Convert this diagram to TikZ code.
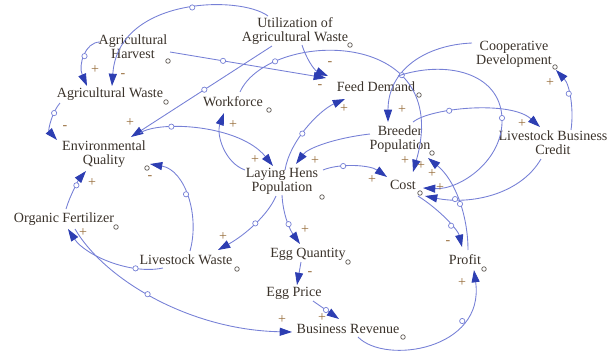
\documentclass[tikz,border=0pt]{standalone}
\usepackage{fontspec}
\setmainfont{Liberation Serif}
\usetikzlibrary{arrows.meta,calc}
\definecolor{linecol}{RGB}{118,128,214}
\definecolor{tipcol}{RGB}{45,62,178}
\definecolor{txtcol}{RGB}{58,50,42}
\definecolor{sgncol}{RGB}{150,108,58}
\tikzset{
	var/.style={font=\fontsize{8}{8}\selectfont, text=txtcol, align=center, inner sep=1pt},
	link/.style={draw=linecol, line width=0.5pt, -{Triangle[length=7pt,width=4.6pt,color=tipcol]}},
	sgn/.style={font=\fontsize{8}{8}\selectfont, text=sgncol, inner sep=0pt},
	dot/.style={circle, draw=linecol, fill=white, line width=0.4pt, inner sep=0pt, minimum size=3pt},
	hdl/.style={draw=txtcol!80, fill=white, line width=0.4pt}
}
\begin{document}
\begin{tikzpicture}[x=0.02cm,y=-0.02cm]
	\useasboundingbox (0,0) rectangle (610,352);
	\node[var] (harv) at (133,47) {Agricultural\\Harvest};
	\node[var] (util) at (295,31) {Utilization of\\Agricultural Waste};
	\node[var] (aw) at (110,94) {Agricultural Waste};
	\node[var] (work) at (233,102) {Workforce};
	\node[var] (feed) at (376,87) {Feed Demand};
	\node[var] (coop) at (514,54) {Cooperative\\Development};
	\node[var] (env) at (104,154) {Environmental\\Quality};
	\node[var] (breed) at (400,139) {Breeder\\Population};
	\node[var] (lbc) at (553,143) {Livestock Business\\Credit};
	\node[var] (lay) at (282,181) {Laying Hens\\Population};
	\node[var] (cost) at (403,185) {Cost};
	\node[var] (fert) at (64,219) {Organic Fertilizer};
	\node[var] (lw) at (186,260) {Livestock Waste};
	\node[var] (eggq) at (308,254) {Egg Quantity};
	\node[var] (eggp) at (294,293) {Egg Price};
	\node[var] (rev) at (348,329) {Business Revenue};
	\node[var] (prof) at (465,260) {Profit};
	\draw[hdl] (168,61) circle (1.3pt);
	\draw[hdl] (350,45) circle (1.3pt);
	\draw[hdl] (166,102) circle (1.3pt);
	\draw[hdl] (269,110) circle (1.3pt);
	\draw[hdl] (419,95) circle (1.3pt);
	\draw[hdl] (555,67) circle (1.3pt);
	\draw[hdl] (147,168) circle (1.3pt);
	\draw[hdl] (432,153) circle (1.3pt);
	\draw[hdl] (322,197) circle (1.3pt);
	\draw[hdl] (420,193) circle (1.3pt);
	\draw[hdl] (116,227) circle (1.3pt);
	\draw[hdl] (237,269) circle (1.3pt);
	\draw[hdl] (348,262) circle (1.3pt);
	\draw[hdl] (403,337) circle (1.3pt);
	\draw[hdl] (484,269) circle (1.3pt);
	\draw[link] ($(harv)+(-33,-5)$) .. controls (85,42) and (78,65) .. node[dot,pos=0.5] (d1) {} ($(aw)+(-23,-8)$);
	\draw[link] ($(util)+(-27,-15)$) .. controls (240,-5) and (118,-3) .. node[dot,pos=0.45] (d2) {} ($(aw)+(2,-8)$);
	\draw[link] ($(util)+(7,14)$) .. controls (306,58) and (314,70) .. ($(feed)+(-48,-11)$);
	\draw[link] ($(harv)+(37,5)$) -- node[dot,pos=0.34] (d4) {} ($(feed)+(-50,-9)$);
	\draw[link] ($(util)+(-23,15)$) -- node[dot,pos=0.48] (d5) {} ($(env)+(27,-17)$);
	\draw[link] ($(env)+(36,-21)$) .. controls (160,120) and (240,125) .. node[dot,pos=0.3] (d6) {} ($(lay)+(-9,-15)$);
	\draw[link] ($(aw)+(-50,9)$) .. controls (52,112) and (48,130) .. node[dot,pos=0.3] (d7) {} ($(env)+(-47,-14)$);
	\draw[link] ($(lay)+(-37,-11)$) .. controls (225,163) and (216,135) .. ($(work)+(-9,11)$);
	\draw[link] ($(work)+(7,-10)$) .. controls (268,30) and (455,25) .. node[dot,pos=0.21] (d9) {} ($(cost)+(10,-13)$);
	\draw[link] ($(coop)+(-42,-11)$) .. controls (425,45) and (388,70) .. node[dot,pos=0.63] (d10) {} ($(breed)+(-12,-17)$);
	\draw[link] ($(feed)+(22,-11)$) .. controls (445,60) and (500,72) .. (502,118) node[dot] (d11) {} .. controls (504,160) and (460,190) .. ($(cost)+(20,3)$);
	\draw[link] ($(breed)+(13,-17)$) .. controls (430,108) and (510,100) .. node[dot,pos=0.35] (d12) {} ($(lbc)+(-13,-16)$);
	\draw[link] ($(lbc)+(18,-13)$) .. controls (574,110) and (570,85) .. node[dot,pos=0.57] (d13) {} ($(coop)+(42,16)$);
	\draw[link] ($(lbc)+(-12,16)$) .. controls (520,195) and (470,205) .. node[dot,pos=0.78] (d14) {} ($(cost)+(22,11)$);
	\draw[link] ($(cost)+(15,11)$) .. controls (440,210) and (458,230) .. node[dot,pos=0.6] (d15) {} ($(prof)+(-3,-13)$);
	\draw[link] ($(prof)+(3,-10)$) .. controls (468,215) and (455,180) .. node[dot,pos=0.45] (d16) {} ($(breed)+(28,19)$);
	\draw[link] ($(rev)+(10,8)$) .. controls (385,365) and (485,350) .. node[dot,pos=0.73] (d17) {} ($(prof)+(9,10)$);
	\draw[link] ($(eggp)+(19,8)$) -- node[dot,pos=0.5] (d18) {} ($(rev)+(-9,-10)$);
	\draw[link] ($(eggq)+(-7,8)$) -- ($(eggp)+(3,-8)$);
	\draw[link] ($(lay)+(0,14)$) .. controls (283,215) and (290,230) .. node[dot,pos=0.55] (d20) {} ($(eggq)+(-8,-10)$);
	\draw[link] ($(lay)+(-6,15)$) .. controls (268,215) and (245,235) .. node[dot,pos=0.48] (d21) {} ($(lw)+(32,-10)$);
	\draw[link] ($(lw)+(4,-9)$) .. controls (200,215) and (185,170) .. node[dot,pos=0.52] (d22) {} ($(env)+(46,10)$);
	\draw[link] ($(lw)+(-23,8)$) .. controls (130,275) and (85,255) .. node[dot,pos=0.26] (d23) {} ($(fert)+(4,10)$);
	\draw[link] ($(fert)+(2,-10)$) .. controls (70,195) and (80,178) .. node[dot,pos=0.55] (d24) {} ($(env)+(-18,17)$);
	\draw[link] ($(fert)+(11,10)$) .. controls (105,280) and (190,330) .. node[dot,pos=0.46] (d25) {} ($(rev)+(-56,3)$);
	\draw[link] ($(lay)+(3,-11)$) .. controls (290,140) and (320,110) .. node[dot,pos=0.42] (d26) {} ($(feed)+(-31,12)$);
	\draw[link] ($(breed)+(-30,-5)$) .. controls (335,138) and (308,148) .. ($(lay)+(14,-17)$);
	\draw[link] ($(lay)+(41,-11)$) .. controls (340,163) and (370,165) .. node[dot,pos=0.33] (d28) {} ($(cost)+(-16,-8)$);
	\node[sgn] (s1) at (95,70) {+};
	\node[sgn] (s2) at (123,76) {-};
	\node[sgn] (s3) at (330,64) {-};
	\node[sgn] (s4) at (320,87) {-};
	\node[sgn] (s5) at (130,123) {+};
	\node[sgn] (s6) at (255,160) {+};
	\node[sgn] (s7) at (65,128) {-};
	\node[sgn] (s8) at (233,125) {+};
	\node[sgn] (s9) at (405,161) {+};
	\node[sgn] (s10) at (402,110) {+};
	\node[sgn] (s11) at (440,188) {+};
	\node[sgn] (s12) at (522,124) {+};
	\node[sgn] (s13) at (550,83) {+};
	\node[sgn] (s14) at (432,174) {+};
	\node[sgn] (s15) at (448,243) {-};
	\node[sgn] (s16) at (421,166) {+};
	\node[sgn] (s17) at (462,283) {+};
	\node[sgn] (s18) at (322,318) {+};
	\node[sgn] (s19) at (310,274) {-};
	\node[sgn] (s20) at (305,230) {+};
	\node[sgn] (s21) at (223,237) {+};
	\node[sgn] (s22) at (150,178) {-};
	\node[sgn] (s23) at (83,233) {+};
	\node[sgn] (s24) at (92,183) {+};
	\node[sgn] (s25) at (282,320) {+};
	\node[sgn] (s26) at (344,109) {+};
	\node[sgn] (s27) at (315,161) {+};
	\node[sgn] (s28) at (372,180) {+};
\end{tikzpicture}
\end{document}
